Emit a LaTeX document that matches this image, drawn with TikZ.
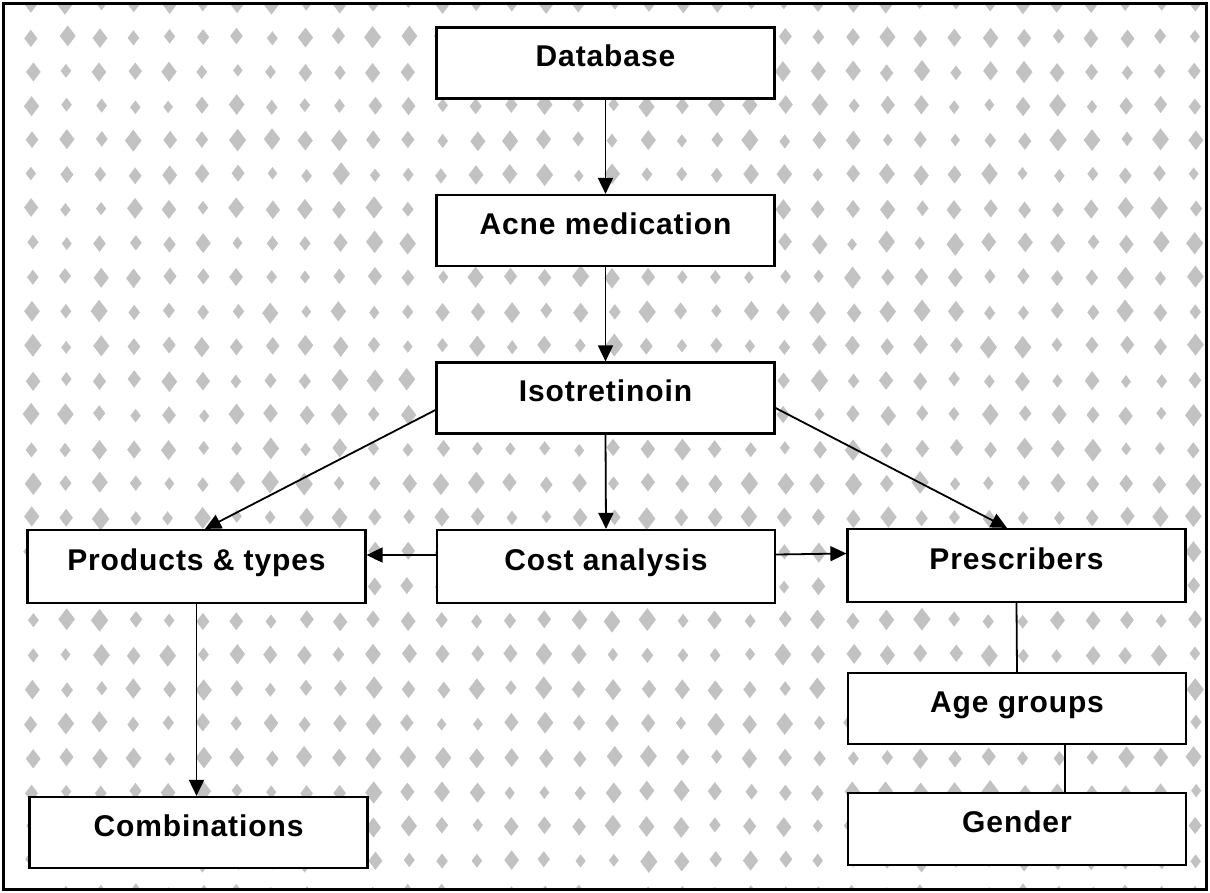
\documentclass[tikz,border=0pt]{standalone}
\usepackage{fontspec}
\setmainfont{Liberation Sans}
\newfontfamily\lblfont[LetterSpace=3]{Liberation Sans Bold}
\usetikzlibrary{arrows.meta,shapes.geometric}
\tikzset{
  boxnode/.style={draw=black, line width=2.2pt, fill=white, minimum width=338pt, minimum height=71pt,
    inner sep=0pt, text height=7pt, text depth=0pt, font=\lblfont\fontsize{30}{34}\selectfont},
  conn/.style={line width=1.8pt, draw=black},
  arr/.style={conn, -{Triangle[length=16pt,width=15pt]}},
  blob/.style={diamond, fill=black!24, inner sep=0pt, draw=none}
}
\begin{document}
\begin{tikzpicture}[x=1pt,y=-1pt]
\useasboundingbox (0,0) rectangle (1210,892);
\fill[white] (0,0) rectangle (1210,892);
\begin{scope}
\clip (4,4) rectangle (1205,888);
\pgfmathsetseed{7}
\foreach \i in {0,...,35}{
  \foreach \j in {0,...,26}{
    \pgfmathsetmacro{\s}{0.6+0.5*rnd}
    \pgfmathsetmacro{\dx}{3*rnd-1.5}
    \pgfmathsetmacro{\dy}{3*rnd-1.5}
    \node[blob, minimum width=16*\s pt, minimum height=21*\s pt] at (32+34.2*\i+\dx, 3+34.3*\j+\dy) {};
  }
}
\end{scope}
\draw[line width=3pt] (3,3) rectangle (1206,889);

\node[boxnode] (db) at (605.5,63) {Database};
\node[boxnode] (acne) at (605.5,230.5) {Acne medication};
\node[boxnode] (iso) at (605.5,398) {Isotretinoin};
\node[boxnode, minimum height=73pt] (cost) at (606,566.5) {Cost analysis};
\node[boxnode, minimum height=73pt] (prod) at (196.5,566.5) {Products \& types};
\node[boxnode, minimum height=73pt] (pres) at (1016.5,565.5) {Prescribers};
\node[boxnode] (age) at (1017,708.5) {Age groups};
\node[boxnode, minimum height=72pt] (gen) at (1017,829) {Gender};
\node[boxnode] (comb) at (198.5,832.5) {Combinations};

\draw[arr] (db.south) -- (acne.north);
\draw[arr] (acne.south) -- (iso.north);
\draw[arr] (iso.south) -- (cost.north);
\draw[arr] ([yshift=-12pt]iso.west) -- ([xshift=8.5pt]prod.north);
\draw[arr] ([yshift=-10pt]iso.east) -- ([xshift=-9.5pt]pres.north);
\draw[arr] ([yshift=11.5pt]cost.west) -- ([yshift=11.5pt]prod.east);
\draw[arr] ([yshift=12pt]cost.east) -- ([yshift=12pt]pres.west);
\draw[arr] (prod.south) -- (prod.south |- comb.north);
\draw[conn] (pres.south) -- (age.north);
\draw[conn] ([xshift=48pt]age.south) -- ([xshift=48pt]gen.north);
\end{tikzpicture}
\end{document}
